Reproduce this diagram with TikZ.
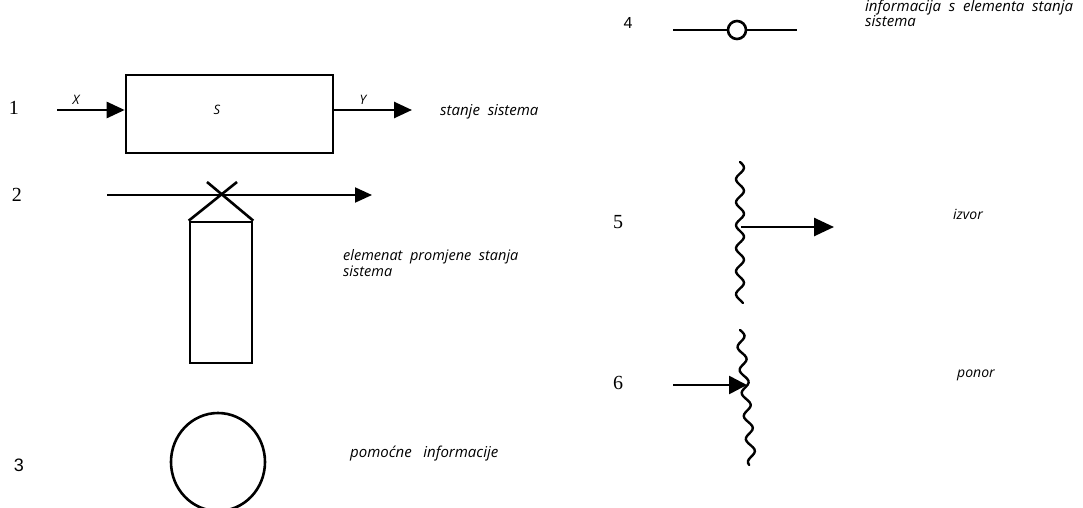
\documentclass[tikz,border=0pt]{standalone}
\usepackage{fontspec}
\setmainfont{Liberation Serif}
\newfontfamily\lblfont{Open Sans}
\newfontfamily\numsans{Liberation Sans}
\usetikzlibrary{arrows.meta,shapes.geometric}
\tikzset{
  lbl/.style={font=\lblfont\itshape\fontsize{15}{15}\selectfont, inner sep=0pt},
  small lbl/.style={font=\lblfont\itshape\fontsize{13}{13}\selectfont, inner sep=0pt},
  num/.style={font=\fontsize{20}{20}\selectfont, inner sep=0pt},
  numsf/.style={font=\numsans\fontsize{16}{16}\selectfont, inner sep=0pt},
  big arrow/.style={line width=2.6pt, -{Triangle[length=18pt,width=16pt]}},
  thin arrow/.style={line width=2pt, -{Triangle[length=17pt,width=15pt]}},
  shape line/.style={line width=2.6pt},
  wavy/.style={line width=2.4pt, line cap=round}
}
\begin{document}
\begin{tikzpicture}[x=1pt,y=-1pt]
\useasboundingbox (0,0) rectangle (1083,508);
% numbers
\node[num] (n1) at (14,108) {1};
\node[num] (n2) at (17,195) {2};
\node[numsf, font=\numsans\fontsize{18}{18}\selectfont] (n3) at (19,465) {3};
\node[numsf] (n4) at (628,23) {4};
\node[num] (n5) at (618,222) {5};
\node[num] (n6) at (618,383) {6};
% row 1
\node[draw, shape line, minimum width=207pt, minimum height=78pt, inner sep=0pt] (box) at (229.5,114) {};
\node[small lbl] (s) at (217,110) {S};
\coordinate (in1) at (57,110);
\coordinate (out1) at (412,110);
\draw[big arrow] (in1) -- (in1 -| box.west);
\draw[big arrow] (out1 -| box.east) -- (out1);
\node[small lbl] (xl) at (76,100) {X};
\node[small lbl] (yl) at (363,100) {Y};
\node[lbl, anchor=base west] (t1) at (440,116) {stanje\ \ sistema};
% row 2
\coordinate (a2) at (107,195);
\coordinate (b2) at (372,195);
\draw[thin arrow] (a2) -- (b2);
\node[draw, shape line, minimum width=62pt, minimum height=141pt, inner sep=0pt] (tall) at (221,292.5) {};
\coordinate (xa) at (237,182);
\coordinate (xb) at (207,182);
\draw[shape line] (tall.north west) -- (xa);
\draw[shape line] (tall.north east) -- (xb);
\node[lbl, anchor=base west, align=left, font=\lblfont\itshape\fontsize{14.5}{12}\selectfont] (t2) at (343,276) {elemenat\ \ promjene\ \ stanja\\sistema};
% row 3
\node[draw, ellipse, shape line, minimum width=94pt, minimum height=98pt, inner sep=0pt] (c3) at (218,462) {};
\node[lbl, anchor=base west] (t3) at (350,457) {pomoćne\ \ \ informacije};
% row 4
\node[draw, circle, shape line, minimum size=18pt, inner sep=0pt] (c4) at (737,30) {};
\coordinate (l4a) at (673,30);
\coordinate (l4b) at (797,30);
\draw[shape line] (l4a) -- (c4);
\draw[shape line] (c4) -- (l4b);
\node[lbl, anchor=base west, align=left, font=\lblfont\itshape\fontsize{15}{15}\selectfont] (t4) at (865,27) {informacija\ \ s\ \ elementa\ \ stanja\\sistema};
% row 5
\draw[wavy] plot[smooth, samples=70, domain=0:141] ({740+4*sin(\x*15.652)},{162+\x});
\coordinate (w5) at (741,227);
\coordinate (e5) at (834,227);
\draw[big arrow, -{Triangle[length=20pt,width=18pt]}] (w5) -- (e5);
\node[lbl, anchor=base west, font=\lblfont\itshape\fontsize{14}{14}\selectfont] (t5) at (953,219) {izvor};
% row 6
\draw[wavy] plot[smooth, samples=70, domain=0:135] ({740+\x*0.09+4*sin(\x*15.652)},{330+\x});
\coordinate (a6) at (673,385);
\coordinate (w6) at (747,385);
\draw[big arrow, -{Triangle[length=18pt,width=18pt]}] (a6) -- (w6);
\node[lbl, anchor=base west, font=\lblfont\itshape\fontsize{14}{14}\selectfont] (t6) at (957,377) {ponor};
\end{tikzpicture}
\end{document}
